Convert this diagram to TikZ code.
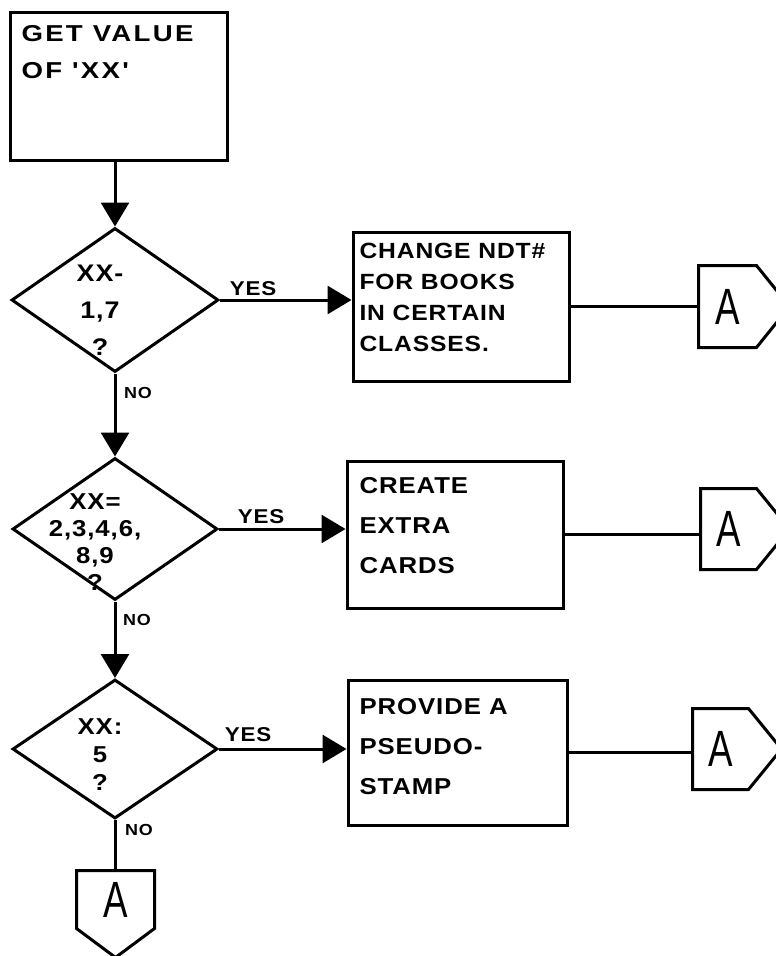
\documentclass[tikz,border=0pt]{standalone}
\usepackage{fontspec}
\usetikzlibrary{shapes.geometric,arrows.meta}
\newfontfamily\hand[FakeStretch=1.12,LetterSpace=4]{Liberation Sans Bold}
\newfontfamily\handwide[FakeStretch=1.2,LetterSpace=10]{Liberation Sans Bold}
\newfontfamily\handA[FakeStretch=0.72]{Liberation Sans}
\begin{document}
\begin{tikzpicture}[x=1pt,y=-1pt,line width=3pt,
  box/.style={draw,rectangle,inner sep=0pt},
  dia/.style={draw,diamond,inner sep=0pt},
  conn/.style={rectangle,inner sep=0pt,font=\handA\fontsize{51}{51}\selectfont},
  boxtext/.style={anchor=north west,align=left,inner sep=0pt},
  diatext/.style={align=center,inner sep=0pt,font=\hand\fontsize{23}{28}\selectfont},
  lbl/.style={inner sep=0pt,font=\hand\fontsize{20}{20}\selectfont},
  nolbl/.style={inner sep=0pt,font=\hand\fontsize{16}{16}\selectfont},
  arr/.style={-{Triangle[length=24pt,width=28pt]}}]
\useasboundingbox (0,0) rectangle (776,956);

% process boxes
\node[box,minimum width=217pt,minimum height=148pt] (b1) at (118.5,86) {};
\node[boxtext,font=\handwide\fontsize{23}{37}\selectfont] (t1) at (20,24) {GET VALUE\\OF 'XX'};

\node[box,minimum width=216pt,minimum height=149pt] (b2) at (461,306.5) {};
\node[boxtext,font=\hand\fontsize{22}{31}\selectfont] (t2) at (358,242) {CHANGE NDT\#\\FOR BOOKS\\IN CERTAIN\\CLASSES.};

\node[box,minimum width=216pt,minimum height=147pt] (b3) at (455,534.5) {};
\node[boxtext,font=\hand\fontsize{23}{40}\selectfont] (t3) at (358,476) {CREATE\\EXTRA\\CARDS};

\node[box,minimum width=219pt,minimum height=145pt] (b4) at (457.5,752.5) {};
\node[boxtext,font=\hand\fontsize{23}{40}\selectfont] (t4) at (358,697) {PROVIDE A\\PSEUDO-\\STAMP};

% decisions
\node[dia,minimum width=207pt,minimum height=144pt] (d1) at (115,300) {};
\node[diatext,font=\hand\fontsize{24}{37}\selectfont] (q1) at (100,310) {XX-\\1,7\\?};

\node[dia,minimum width=205pt,minimum height=142pt] (d2) at (115,529) {};
\node[diatext,font=\hand\fontsize{23}{27}\selectfont] (q2) at (95,542) {XX=\\2,3,4,6,\\8,9\\?};

\node[dia,minimum width=205pt,minimum height=139pt] (d3) at (115,749) {};
\node[diatext] (q3) at (100,755) {XX:\\5\\?};

% off-page connectors
\node[conn,minimum width=55pt,minimum height=79pt] (A1) at (727.5,306.5) {A};
\draw (A1.north west) -- (A1.north east) -- ([xshift=33pt]A1.east) -- (A1.south east) -- (A1.south west) -- cycle;
\node[conn,minimum width=53pt,minimum height=78pt] (A2) at (728.5,529) {A};
\draw (A2.north west) -- (A2.north east) -- ([xshift=33pt]A2.east) -- (A2.south east) -- (A2.south west) -- cycle;
\node[conn,minimum width=53pt,minimum height=78pt] (A3) at (720.5,749) {A};
\draw (A3.north west) -- (A3.north east) -- ([xshift=33pt]A3.east) -- (A3.south east) -- (A3.south west) -- cycle;
\node[conn,minimum width=75pt,minimum height=55pt] (A4) at (115.5,899.5) {A};
\draw (A4.north west) -- (A4.north east) -- (A4.south east) -- ([yshift=-29pt]A4.south) -- (A4.south west) -- cycle;

% connectors
\draw[arr] (d1.north |- b1.south) -- (d1.north);
\draw[arr] (d1.east) -- (d1.east -| b2.west);
\draw (b2.east) -- (b2.east -| A1.west);
\draw[arr] (d1.south) -- (d2.north);
\draw[arr] (d2.east) -- (d2.east -| b3.west);
\draw (b3.east) -- (b3.east -| A2.west);
\draw[arr] (d2.south) -- (d3.north);
\draw[arr] (d3.east) -- (d3.east -| b4.west);
\draw (b4.east) -- (b4.east -| A3.west);
\draw (d3.south) -- (d3.south |- A4.north);

% labels
\node[lbl] (y1) at (253,289) {YES};
\node[lbl] (y2) at (261,517) {YES};
\node[lbl] (y3) at (248,735) {YES};
\node[nolbl] (n1) at (138,393) {NO};
\node[nolbl] (n2) at (137,620) {NO};
\node[nolbl] (n3) at (139,830) {NO};
\end{tikzpicture}
\end{document}
